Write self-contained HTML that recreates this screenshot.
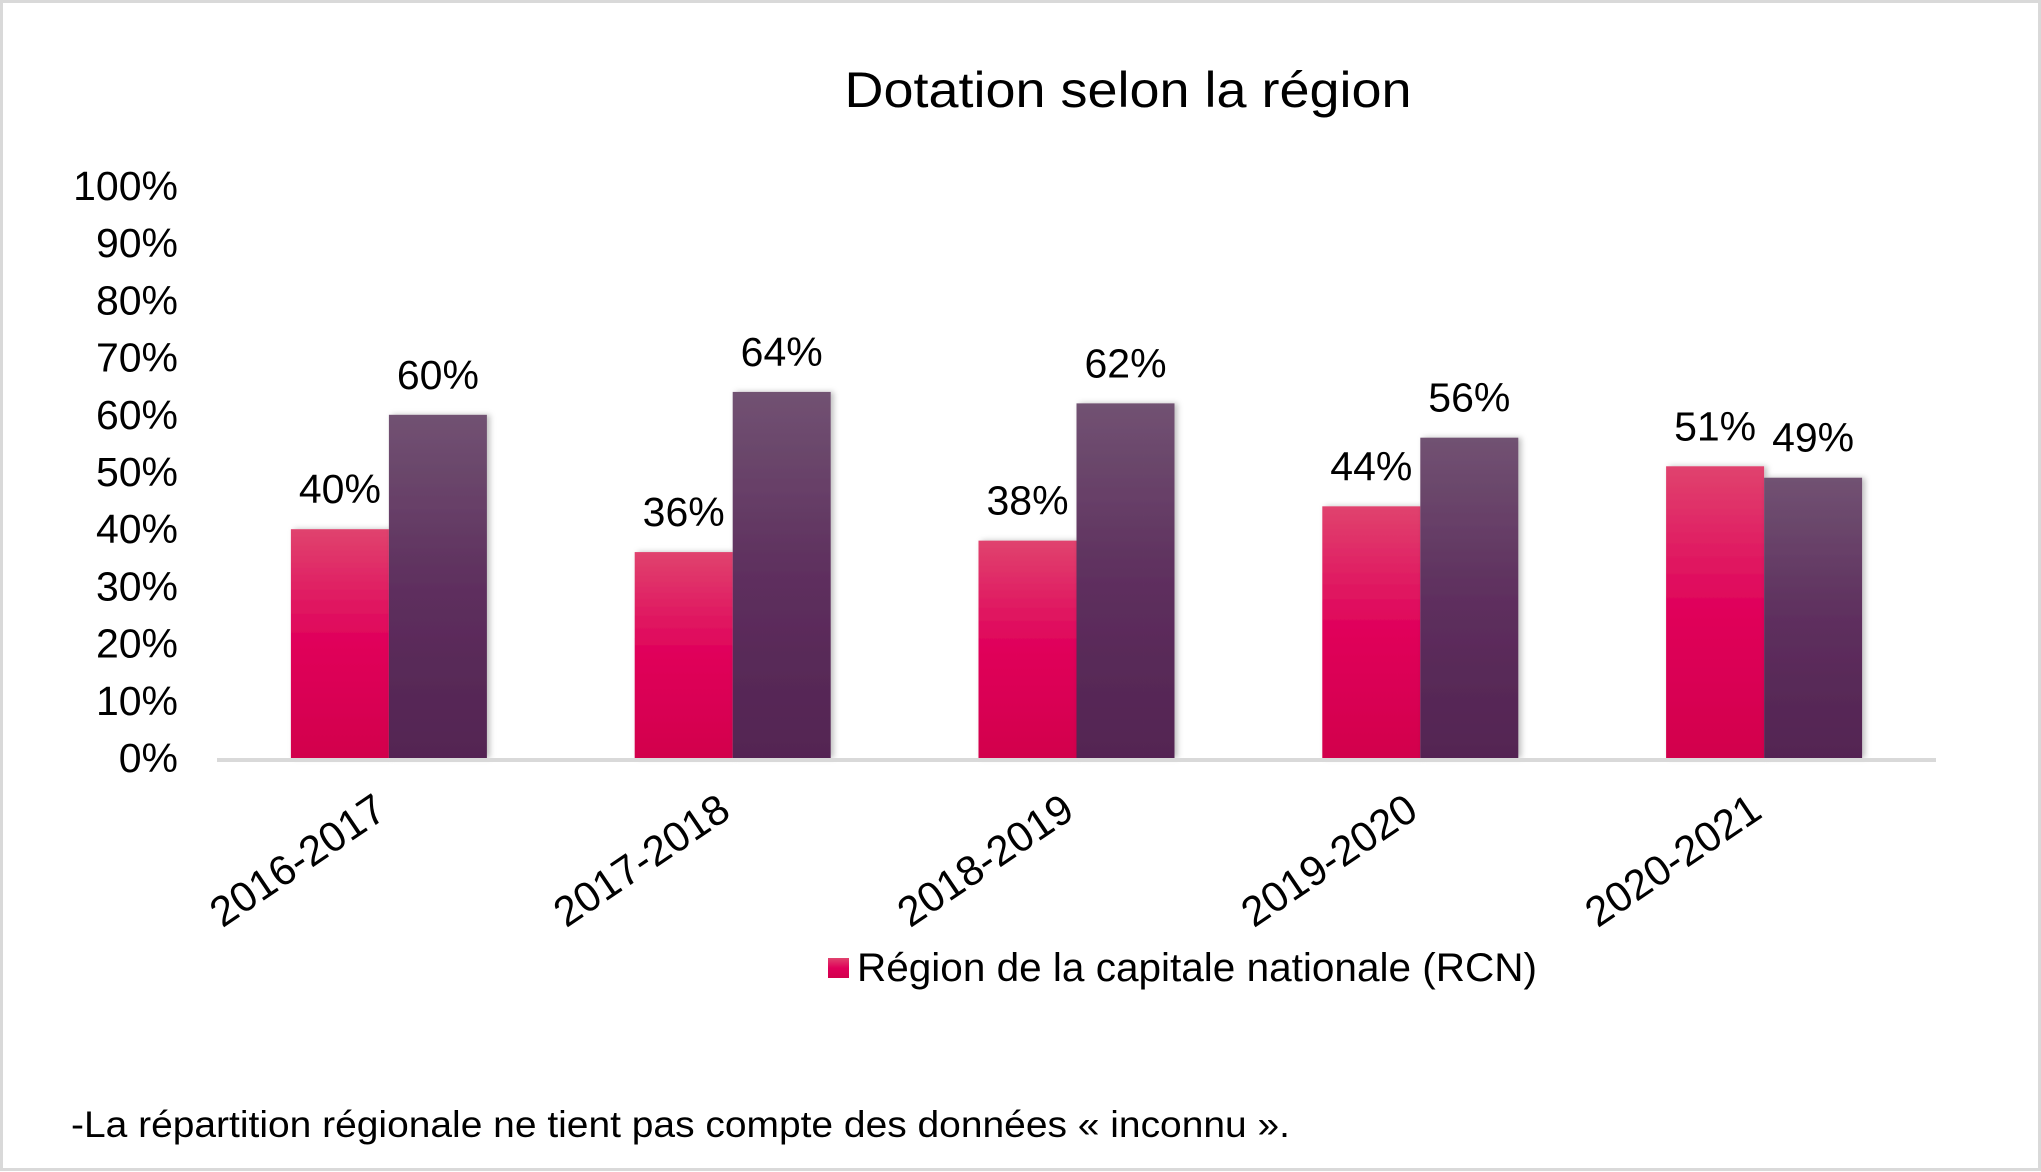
<!DOCTYPE html>
<html><head><meta charset="utf-8"><style>
html,body{margin:0;padding:0;background:#fff}
svg{display:block}
text{font-family:"Liberation Sans",sans-serif;fill:#000}
</style></head><body>
<svg id="chart" width="2041" height="1172" viewBox="0 0 2041 1172" xmlns="http://www.w3.org/2000/svg">
<defs>
<linearGradient id="gRed" x1="0" y1="0" x2="0" y2="1">
<stop offset="0" stop-color="#e0436e"/><stop offset="0.5" stop-color="#e0005a"/><stop offset="1" stop-color="#d2004c"/>
</linearGradient>
<linearGradient id="gPur" x1="0" y1="0" x2="0" y2="1">
<stop offset="0" stop-color="#715272"/><stop offset="0.5" stop-color="#5e2f5e"/><stop offset="1" stop-color="#532452"/>
</linearGradient>
<filter id="sh" x="-20%" y="-5%" width="140%" height="110%"><feDropShadow dx="3" dy="0" stdDeviation="3" flood-color="#000" flood-opacity="0.25"/></filter>
</defs>
<rect x="1.5" y="1.5" width="2038" height="1168" fill="#fff" stroke="#d9d9d9" stroke-width="3"/>
<text x="1128" y="107" font-size="50" text-anchor="middle" textLength="567" lengthAdjust="spacingAndGlyphs">Dotation selon la région</text>
<g id="yaxis"></g>
<g id="bars"></g>
<g id="labels"></g>
<g id="xaxis"></g>
<g>
<rect x="828" y="958" width="21" height="20" fill="url(#gRed)"/>
<text x="857" y="981" font-size="40" textLength="680" lengthAdjust="spacingAndGlyphs">Région de la capitale nationale (RCN)</text>
</g>
<text x="71" y="1137" font-size="37" textLength="1219" lengthAdjust="spacingAndGlyphs">-La répartition régionale ne tient pas compte des données « inconnu ».</text>
</svg>
<script>
const categories = ["2016-2017","2017-2018","2018-2019","2019-2020","2020-2021"];
const rcnValues = [40,36,38,44,51];
const otherValues = [60,64,62,56,49];
const yTicks = [0,10,20,30,40,50,60,70,80,90,100];

const NS="http://www.w3.org/2000/svg";
const x0=217, x1=1936, y0=758, yTop=186;
const catW=(x1-x0)/categories.length, barW=98;
const yScale=v=>y0-(v/100)*(y0-yTop);
const catCenter=i=>x0+catW*(i+0.5);
function mk(tag,attrs,parent){const e=document.createElementNS(NS,tag);for(const k in attrs)e.setAttribute(k,attrs[k]);parent.appendChild(e);return e;}
const yG=document.getElementById('yaxis'),bG=document.getElementById('bars'),lG=document.getElementById('labels'),xG=document.getElementById('xaxis');
yTicks.forEach(t=>{
  const tx=mk('text',{x:178,y:yScale(t)+14,'font-size':41,'text-anchor':'end'},yG);
  
  
  tx.textContent=t+'%';
});
const axisLine=mk('line',{x1:x0,x2:x1,y1:y0+2,y2:y0+2,stroke:'#d9d9d9','stroke-width':4},xG);


categories.forEach((c,i)=>{
  const cx=catCenter(i);
  [[rcnValues[i],cx-barW,'url(#gRed)','bar-rcn'],[otherValues[i],cx,'url(#gPur)','bar-other']].forEach(([v,bx,fill,name])=>{
    const r=mk('rect',{x:bx,y:yScale(v),width:barW,height:y0-yScale(v),fill:fill,filter:'url(#sh)'},bG);
    
    
    const l=mk('text',{x:bx+barW/2,y:yScale(v)-26,'font-size':41,'text-anchor':'middle'},lG);
    
    
    l.textContent=v+'%';
  });
  const xl=mk('text',{x:0,y:0,'font-size':42,'text-anchor':'end',transform:`translate(${cx},${y0+58}) rotate(-34)`},xG);
  
  
  xl.textContent=c;
});
</script>
</body></html>
